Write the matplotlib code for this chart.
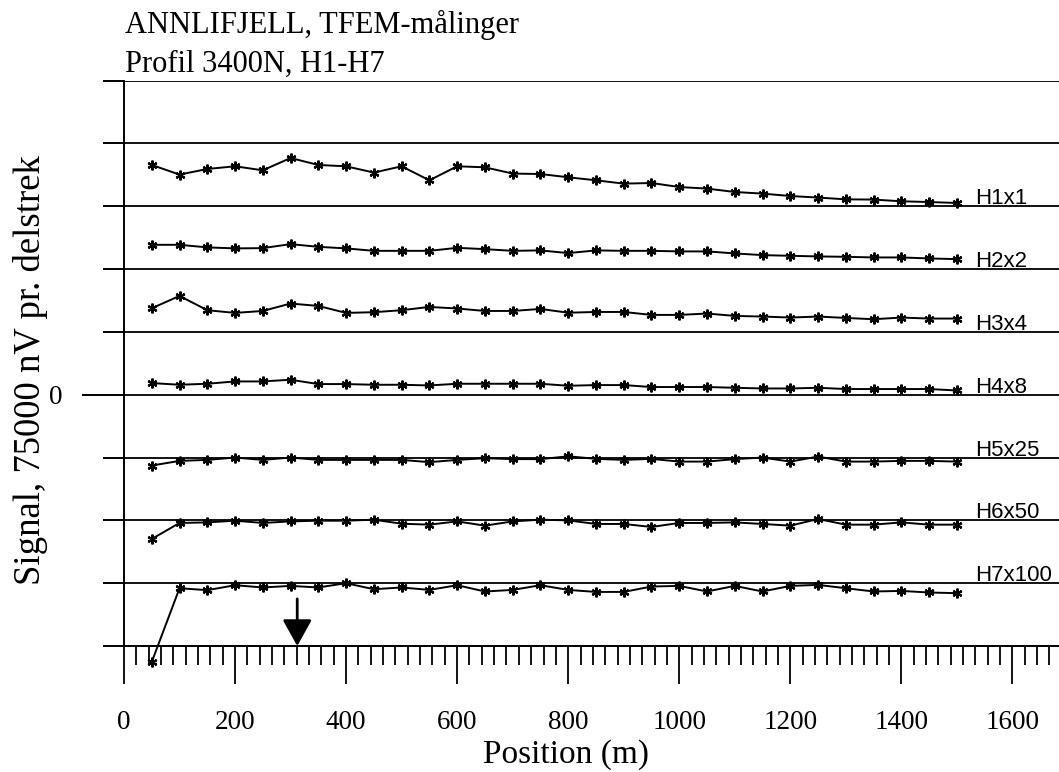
import matplotlib
matplotlib.use('Agg')
import matplotlib.pyplot as plt
from matplotlib.ticker import FixedLocator, MultipleLocator
import numpy as np

# positions (m)
positions = np.arange(50, 1501, 50)

# signal in divisions (75000 nV), relative to each channel's base line
h1 = [0.658, 0.505, 0.594, 0.637, 0.573, 0.769, 0.658, 0.637, 0.537, 0.637,
      0.414, 0.637, 0.621, 0.521, 0.514, 0.462, 0.414, 0.361, 0.371, 0.307,
      0.282, 0.228, 0.202, 0.164, 0.139, 0.111, 0.107, 0.080, 0.068, 0.053]
h2 = [0.387, 0.387, 0.346, 0.330, 0.334, 0.398, 0.355, 0.330, 0.291, 0.291,
      0.291, 0.339, 0.318, 0.291, 0.298, 0.255, 0.298, 0.291, 0.291, 0.282,
      0.282, 0.250, 0.223, 0.212, 0.202, 0.196, 0.186, 0.186, 0.170, 0.159]
h3 = [0.377, 0.573, 0.346, 0.303, 0.334, 0.452, 0.414, 0.303, 0.314, 0.346,
      0.398, 0.373, 0.334, 0.334, 0.366, 0.306, 0.318, 0.318, 0.271, 0.271,
      0.293, 0.255, 0.245, 0.229, 0.245, 0.223, 0.202, 0.229, 0.213, 0.213]
h4 = [0.186, 0.159, 0.175, 0.212, 0.212, 0.239, 0.170, 0.170, 0.159, 0.159,
      0.148, 0.175, 0.175, 0.175, 0.175, 0.143, 0.154, 0.154, 0.123, 0.123,
      0.123, 0.111, 0.100, 0.100, 0.111, 0.091, 0.091, 0.091, 0.091, 0.068]
h5 = [-0.127, -0.053, -0.037, 0.0, -0.037, 0.0, -0.037, -0.037, -0.037, -0.037,
      -0.073, -0.037, -0.010, -0.025, -0.025, 0.020, -0.020, -0.037, -0.021, -0.064,
      -0.064, -0.025, 0.0, -0.064, 0.016, -0.064, -0.064, -0.053, -0.053, -0.064]
h6 = [-0.296, -0.041, -0.032, -0.005, -0.041, -0.016, -0.005, -0.005, 0.011, -0.053,
      -0.068, -0.016, -0.084, -0.016, 0.011, 0.0, -0.057, -0.057, -0.105, -0.041,
      -0.041, -0.032, -0.057, -0.084, 0.022, -0.068, -0.068, -0.032, -0.068, -0.068]
h7 = [-1.253, -0.080, -0.111, -0.032, -0.068, -0.043, -0.068, 0.0, -0.096, -0.068,
      -0.107, -0.032, -0.132, -0.107, -0.032, -0.107, -0.139, -0.139, -0.053, -0.043,
      -0.132, -0.043, -0.132, -0.043, -0.027, -0.080, -0.132, -0.123, -0.148, -0.159]

channels = [h1, h2, h3, h4, h5, h6, h7]
labels = ['H1x1', 'H2x2', 'H3x4', 'H4x8', 'H5x25', 'H6x50', 'H7x100']
offsets = [3, 2, 1, 0, -1, -2, -3]
arrow_x = 312

serif = 'Liberation Serif'
sans = 'Liberation Sans'

fig = plt.figure(figsize=(10.59, 7.72), dpi=100)
ax = fig.add_axes([0.1171, 0.1632, 0.8829, 0.7323])

for vals, lab, off in zip(channels, labels, offsets):
    ax.plot(positions, np.array(vals) + off, color='black', lw=1.4,
            marker=(6, 2, 0), ms=7, mew=1.6, clip_on=False, zorder=3)
    ax.text(1533, off + 0.03, lab, family=sans, fontsize=16,
            ha='left', va='baseline')

ax.annotate('', xy=(arrow_x, -4), xytext=(arrow_x, -3.25),
            arrowprops=dict(arrowstyle='-|>,head_length=0.9,head_width=0.5',
                            color='black', lw=2, mutation_scale=18,
                            shrinkA=0, shrinkB=0))

ax.set_xlim(0, 1684)
ax.set_ylim(-4, 5)
for s in ['top', 'right']:
    ax.spines[s].set_visible(False)
for s in ['left', 'bottom']:
    ax.spines[s].set_linewidth(1.4)

ax.xaxis.set_major_locator(MultipleLocator(200))
ax.xaxis.set_minor_locator(MultipleLocator(200 / 9))
ax.yaxis.set_major_locator(FixedLocator([0]))
ax.yaxis.set_minor_locator(MultipleLocator(1))
ax.tick_params(axis='x', which='major', length=27, width=1.3, direction='out', pad=19)
ax.tick_params(axis='x', which='minor', length=14, width=1.3, direction='out')
ax.tick_params(axis='y', which='major', length=30, width=1.4, direction='out', pad=14)
ax.tick_params(axis='y', which='minor', length=15, width=1.4, direction='out')
ax.grid(axis='y', which='both', color='#111111', lw=1.4)
ax.set_axisbelow(True)

for t in ax.get_xticklabels() + ax.get_yticklabels():
    t.set_family(serif)
    t.set_fontsize(19.5)

ax.set_xlabel('Position (m)', family=serif, fontsize=24, va='baseline')
ax.xaxis.set_label_coords(0.4727, -0.207)
ax.set_ylabel('Signal, 75000 nV pr. delstrek', family=serif, fontsize=26.5, va='center')
ax.yaxis.set_label_coords(-0.0995, 0.488)

fig.text(0.118, 0.957, 'ANNLIFJELL, TFEM-målinger', family=serif, fontsize=22, va='baseline')
fig.text(0.118, 0.907, 'Profil 3400N, H1-H7', family=serif, fontsize=22, va='baseline')

fig.savefig('out.png', dpi=100)
